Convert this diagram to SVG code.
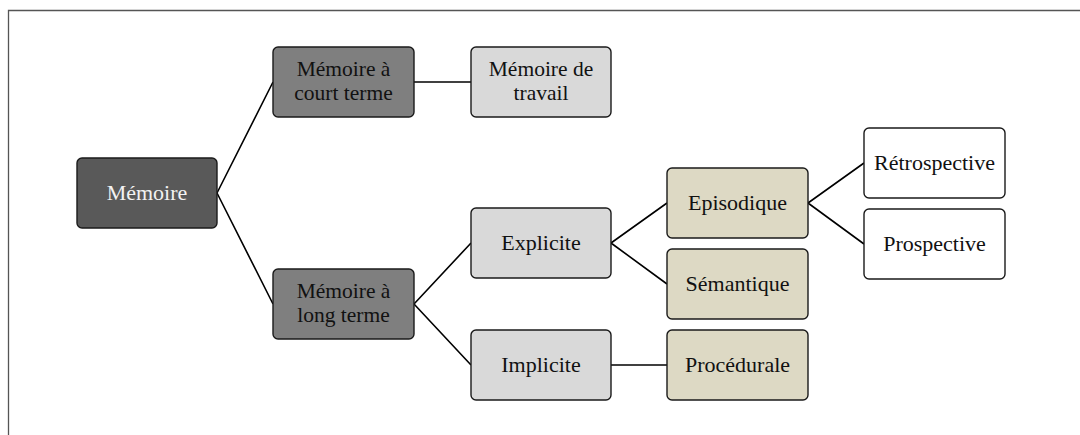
<svg xmlns="http://www.w3.org/2000/svg" width="1080" height="435" viewBox="0 0 1080 435">
<style>
.box{stroke:#1a1a1a;stroke-width:1.4}
.t{font-family:"Liberation Serif",Cambria,serif;font-size:22px;text-anchor:middle;fill:#111}
.t2{font-size:21.5px}
.w{fill:#f2f2f2}
.c{stroke:#000;stroke-width:1.6;fill:none}
</style>
<rect x="0" y="0" width="1080" height="435" fill="#fff"/>
<path d="M8.5 440 V10.5 H1090" fill="none" stroke="#555" stroke-width="1.3"/>
<g id="connectors">
<path class="c" d="M217 193 L273 82 M217 193 L273 304"/>
<path class="c" d="M414 82 H471"/>
<path class="c" d="M414 304 L471 243 M414 304 L471 365"/>
<path class="c" d="M611 243 L667 203 M611 243 L667 284"/>
<path class="c" d="M611 365 H667"/>
<path class="c" d="M808 203 L864 163 M808 203 L864 244"/>
</g>
<g id="memoire"><rect class="box" x="77" y="158" width="140" height="70" rx="5" fill="#595959"/><text class="t w" x="147" y="200">Mémoire</text></g>
<g id="court"><rect class="box" x="273" y="47" width="141" height="70" rx="5" fill="#7f7f7f"/><text class="t t2" x="343.5" y="75.5">Mémoire à</text><text class="t t2" x="343.5" y="99.5">court terme</text></g>
<g id="long"><rect class="box" x="273" y="269" width="141" height="70" rx="5" fill="#7f7f7f"/><text class="t t2" x="343.5" y="297.5">Mémoire à</text><text class="t t2" x="343.5" y="321.5">long terme</text></g>
<g id="travail"><rect class="box" x="471" y="47" width="140" height="70" rx="5" fill="#d9d9d9"/><text class="t t2" x="541" y="75.5">Mémoire de</text><text class="t t2" x="541" y="99.5">travail</text></g>
<g id="explicite"><rect class="box" x="471" y="208" width="140" height="70" rx="5" fill="#d9d9d9"/><text class="t" x="541" y="250">Explicite</text></g>
<g id="implicite"><rect class="box" x="471" y="330" width="140" height="70" rx="5" fill="#d9d9d9"/><text class="t" x="541" y="372">Implicite</text></g>
<g id="episodique"><rect class="box" x="667" y="168" width="141" height="70" rx="5" fill="#ddd9c4"/><text class="t" x="737.5" y="210">Episodique</text></g>
<g id="semantique"><rect class="box" x="667" y="249" width="141" height="70" rx="5" fill="#ddd9c4"/><text class="t" x="737.5" y="291">Sémantique</text></g>
<g id="procedurale"><rect class="box" x="667" y="330" width="141" height="70" rx="5" fill="#ddd9c4"/><text class="t" x="737.5" y="372">Procédurale</text></g>
<g id="retrospective"><rect class="box" x="864" y="128" width="141" height="70" rx="5" fill="#fff"/><text class="t" x="934.5" y="170">Rétrospective</text></g>
<g id="prospective"><rect class="box" x="864" y="209" width="141" height="70" rx="5" fill="#fff"/><text class="t" x="934.5" y="251">Prospective</text></g>
</svg>
